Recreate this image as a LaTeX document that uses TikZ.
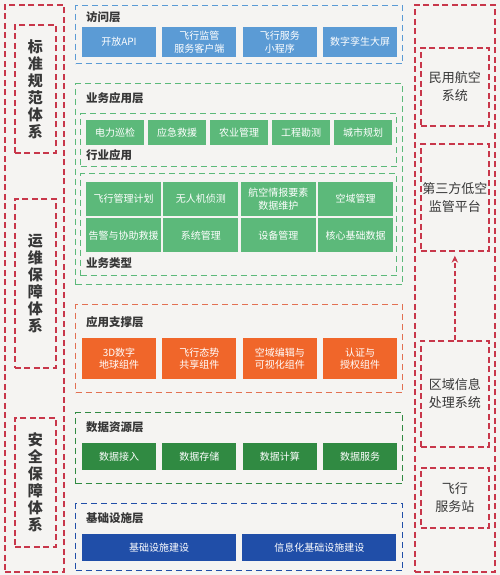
\documentclass[tikz,border=0pt]{standalone}
\usepackage{fontspec}
\setmainfont{Noto Sans CJK SC}
\usetikzlibrary{arrows.meta,positioning}
\definecolor{BgGray}{RGB}{245,244,242}
\definecolor{TxtGray}{RGB}{55,55,55}
\definecolor{SysRed}{RGB}{200,55,75}
\definecolor{AccBlue}{RGB}{91,155,213}
\definecolor{BizGreen}{RGB}{92,185,122}
\definecolor{SupOrange}{RGB}{240,102,42}
\definecolor{SupLine}{RGB}{226,112,82}
\definecolor{DataGreen}{RGB}{48,138,66}
\definecolor{InfraBlue}{RGB}{32,78,168}

\begin{document}
\begin{tikzpicture}[x=1pt,y=-1pt,node distance=6pt,>=Stealth]
  \tikzset{
    frame/.style={dash pattern=on 6pt off 4pt,line width=1.3pt,anchor=north west,inner sep=0pt},
    sys/.style={draw=SysRed,dash pattern=on 6pt off 3.5pt,line width=1.7pt,anchor=north west,inner sep=0pt,align=center,text=TxtGray},
    title/.style={anchor=west,inner sep=0pt,text=TxtGray,font=\fontsize{11.5}{13}\selectfont\bfseries},
    cell/.style={text=white,align=center,inner sep=0pt,font=\fontsize{10}{12.5}\selectfont},
    acccell/.style={cell,fill=AccBlue,minimum width=74pt,minimum height=30pt},
    indcell/.style={cell,fill=BizGreen,minimum width=58pt,minimum height=25pt},
    typcell/.style={cell,fill=BizGreen,minimum width=75pt,minimum height=34pt},
    supcell/.style={cell,fill=SupOrange,minimum width=74pt,minimum height=41pt},
    datcell/.style={cell,fill=DataGreen,minimum width=74pt,minimum height=27pt},
    infcell/.style={cell,fill=InfraBlue,minimum width=154pt,minimum height=27pt},
    sidetxt/.style={font=\fontsize{15}{17}\selectfont\bfseries},
    righttxt/.style={font=\fontsize{13}{18}\selectfont}
  }
  \fill[BgGray] (0,0) rectangle (500,575);

  % left column
  \node[sys,minimum width=59pt,minimum height=567pt] (lout) at (4,4) {};
  \node[sys,sidetxt,minimum width=41pt,minimum height=128pt] (std) at (14,24) {标\\准\\规\\范\\体\\系};
  \node[sys,sidetxt,minimum width=41pt,minimum height=169pt] (ops) at (14,198) {运\\维\\保\\障\\体\\系};
  \node[sys,sidetxt,minimum width=41pt,minimum height=129pt] (sec) at (14,417) {安\\全\\保\\障\\体\\系};

  % right column
  \node[sys,minimum width=80pt,minimum height=567pt] (rout) at (414,4) {};
  \node[sys,righttxt,minimum width=68pt,minimum height=78pt] (civ) at (420,47) {民用航空\\系统};
  \node[sys,righttxt,minimum width=68pt,minimum height=107pt] (thd) at (420,143) {第三方低空\\监管平台};
  \node[sys,righttxt,minimum width=68pt,minimum height=106pt] (reg) at (420,340) {区域信息\\处理系统};
  \node[sys,righttxt,minimum width=68pt,minimum height=60pt] (fss) at (420,467) {飞行\\服务站};
  \draw[-{Stealth[length=7pt,width=6.5pt]},SysRed,dash pattern=on 5pt off 3pt,line width=1.5pt,shorten >=4pt] (reg) -- (thd);

  % 访问层
  \node[frame,draw=AccBlue,minimum width=327pt,minimum height=58pt] (acc) at (75,5) {};
  \node[title] (acct) at (86,17) {访问层};
  \node[acccell] (a1) at (119,42) {开放API};
  \node[acccell,right=of a1] (a2) {飞行监管\\服务客户端};
  \node[acccell,right=of a2] (a3) {飞行服务\\小程序};
  \node[acccell,right=of a3] (a4) {数字孪生大屏};

  % 业务应用层
  \node[frame,draw=BizGreen,minimum width=327pt,minimum height=201pt] (biz) at (75,83) {};
  \node[title] (bizt) at (86,98) {业务应用层};
  \node[frame,draw=BizGreen,minimum width=316pt,minimum height=53pt] (ind) at (80,113) {};
  \node[indcell] (b1) at (115,132.5) {电力巡检};
  \node[indcell,right=3.6pt of b1] (b2) {应急救援};
  \node[indcell,right=3.6pt of b2] (b3) {农业管理};
  \node[indcell,right=3.6pt of b3] (b4) {工程勘测};
  \node[indcell,right=3.6pt of b4] (b5) {城市规划};
  \node[title] (indt) at (86,155) {行业应用};
  \node[frame,draw=BizGreen,minimum width=316pt,minimum height=102pt] (typ) at (80,173) {};
  \node[typcell] (c1) at (123.5,199) {飞行管理计划};
  \node[typcell,right=2pt of c1] (c2) {无人机侦测};
  \node[typcell,right=2pt of c2] (c3) {航空情报要素\\数据维护};
  \node[typcell,right=2pt of c3] (c4) {空域管理};
  \node[typcell,below=2pt of c1] (c5) {告警与协助救援};
  \node[typcell,below=2pt of c2] (c6) {系统管理};
  \node[typcell,below=2pt of c3] (c7) {设备管理};
  \node[typcell,below=2pt of c4] (c8) {核心基础数据};
  \node[title] (typt) at (86,263) {业务类型};

  % 应用支撑层
  \node[frame,draw=SupLine,minimum width=327pt,minimum height=88pt] (sup) at (75,304) {};
  \node[title] (supt) at (86,322) {应用支撑层};
  \node[supcell] (d1) at (119,358.5) {3D数字\\地球组件};
  \node[supcell,right=of d1] (d2) {飞行态势\\共享组件};
  \node[supcell,right=of d2] (d3) {空域编辑与\\可视化组件};
  \node[supcell,right=of d3] (d4) {认证与\\授权组件};

  % 数据资源层
  \node[frame,draw=DataGreen,minimum width=327pt,minimum height=71pt] (dat) at (75,412) {};
  \node[title] (datt) at (86,427) {数据资源层};
  \node[datcell] (e1) at (119,456.5) {数据接入};
  \node[datcell,right=of e1] (e2) {数据存储};
  \node[datcell,right=of e2] (e3) {数据计算};
  \node[datcell,right=of e3] (e4) {数据服务};

  % 基础设施层
  \node[frame,draw=InfraBlue,minimum width=327pt,minimum height=67pt] (inf) at (75,503) {};
  \node[title] (inft) at (86,518) {基础设施层};
  \node[infcell] (f1) at (159,547.5) {基础设施建设};
  \node[infcell,right=of f1] (f2) {信息化基础设施建设};
\end{tikzpicture}
\end{document}
